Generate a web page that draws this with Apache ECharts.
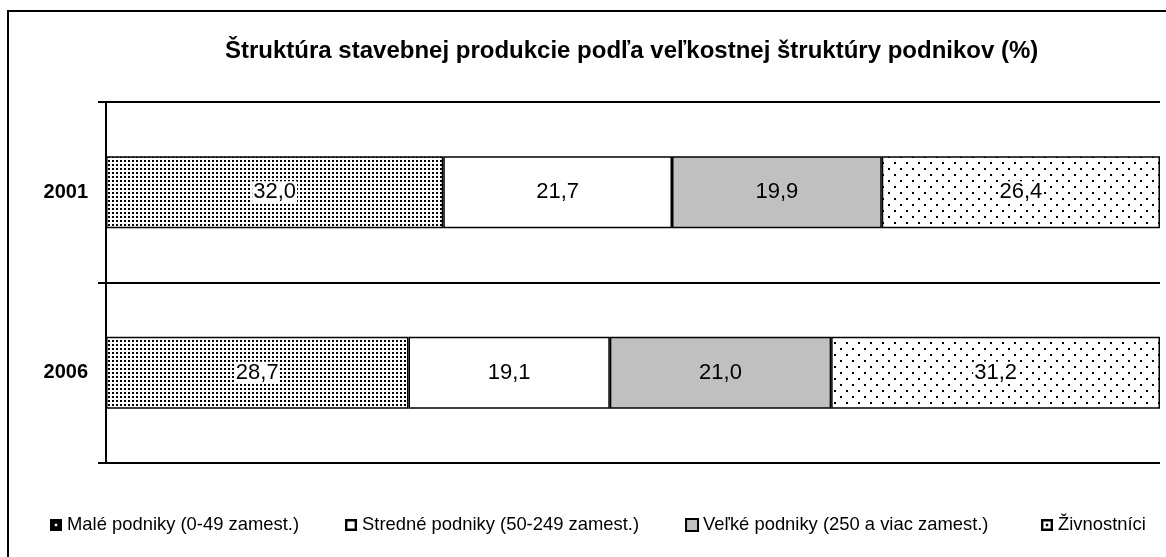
<!DOCTYPE html>
<html>
<head>
<meta charset="utf-8">
<script src="https://cdn.jsdelivr.net/npm/echarts@6/dist/echarts.min.js"></script>
<style>
html,body{margin:0;padding:0;background:#fff;}
#chart{width:1166px;height:557px;}
</style>
</head>
<body>
<div id="chart"></div>
<script>
const titleText = 'Štruktúra stavebnej produkcie podľa veľkostnej štruktúry podnikov (%)';
const years = ['2001', '2006'];
const seriesNames = ['Malé podniky (0-49 zamest.)', 'Stredné podniky (50-249 zamest.)', 'Veľké podniky (250 a viac zamest.)', 'Živnostníci'];
const maleValues = [32.0, 28.7];
const stredneValues = [21.7, 19.1];
const velkeValues = [19.9, 21.0];
const zivnostniciValues = [26.4, 31.2];

function makePattern(size, dots, dotSize) {
  const c = document.createElement('canvas');
  c.width = size[0]; c.height = size[1];
  const ctx = c.getContext('2d');
  ctx.fillStyle = '#fff';
  ctx.fillRect(0, 0, size[0], size[1]);
  ctx.fillStyle = '#000';
  dots.forEach(d => ctx.fillRect(d[0], d[1], dotSize, dotSize));
  return c;
}
const densePattern = makePattern([4, 4], [[0, 0]], 2);
const sparsePattern = makePattern([12, 12], [[0, 0], [6, 6]], 2);

const FONT = 'Arial, "Liberation Sans", sans-serif';
const fmt = p => p.value.toFixed(1).replace('.', ',');

function barSeries(name, data, fill, labelBg) {
  return {
    name: name,
    type: 'bar',
    stack: 'total',
    data: data,
    barCategoryGap: '60%',
    itemStyle: { color: fill, borderColor: '#000', borderWidth: 1.5 },
    label: {
      show: true,
      position: 'inside',
      formatter: fmt,
      fontFamily: FONT,
      fontSize: 22,
      color: '#000',
      backgroundColor: labelBg,
      padding: [0, 1]
    },
    emphasis: { disabled: true }
  };
}

const legendText = { fontFamily: FONT, fontSize: 18.4, color: '#000' };
const legendItems = [
  { name: seriesNames[0], icon: 'path://M0,0H10V10H0Z M4,4V6H6V4Z', itemStyle: { color: '#000', borderWidth: 0 } },
  { name: seriesNames[1], icon: 'path://M0,0H10V10H0Z M2,2V8H8V2Z', itemStyle: { color: '#000', borderWidth: 0 } },
  { name: seriesNames[2], icon: 'rect', itemStyle: { color: '#c0c0c0', borderColor: '#000', borderWidth: 2 } },
  { name: seriesNames[3], icon: 'path://M0,0H10V10H0Z M2,2V8H8V2Z M4,4H6V6H4Z', itemStyle: { color: '#000', borderWidth: 0 } }
];

const chart = echarts.init(document.getElementById('chart'));
chart.setOption({
  animation: false,
  backgroundColor: '#fff',
  title: {
    text: titleText,
    left: 220,
    top: 34,
    textStyle: { fontFamily: FONT, fontSize: 24, fontWeight: 'bold', color: '#000' }
  },
  graphic: [{
    type: 'rect',
    shape: { x: 8, y: 11, width: 1300, height: 700 },
    style: { fill: 'none', stroke: '#000', lineWidth: 2 },
    silent: true
  }],
  legend: [{
    left: 45,
    top: 511,
    itemWidth: 12,
    itemHeight: 12,
    itemGap: 46,
    selectedMode: false,
    textStyle: legendText,
    data: legendItems.slice(0, 3)
  }, {
    left: 1036,
    top: 511,
    itemWidth: 12,
    itemHeight: 12,
    selectedMode: false,
    textStyle: legendText,
    data: legendItems.slice(3)
  }],
  grid: { left: 106, right: 6, top: 102, bottom: 94 },
  xAxis: {
    type: 'value',
    min: 0,
    max: 100,
    show: false
  },
  yAxis: {
    type: 'category',
    data: years,
    inverse: true,
    axisLine: { show: true, lineStyle: { color: '#000', width: 2 } },
    axisTick: { show: true, length: 8, lineStyle: { color: '#000', width: 2 } },
    splitLine: { show: true, lineStyle: { color: '#000', width: 2 } },
    axisLabel: { fontFamily: FONT, fontSize: 20, fontWeight: 'bold', color: '#000', margin: 18 }
  },
  series: [
    barSeries(seriesNames[0], maleValues, { image: densePattern, repeat: 'repeat' }, '#fff'),
    barSeries(seriesNames[1], stredneValues, '#fff', 'transparent'),
    barSeries(seriesNames[2], velkeValues, '#c0c0c0', 'transparent'),
    barSeries(seriesNames[3], zivnostniciValues, { image: sparsePattern, repeat: 'repeat' }, '#fff')
  ]
});
</script>
</body>
</html>
